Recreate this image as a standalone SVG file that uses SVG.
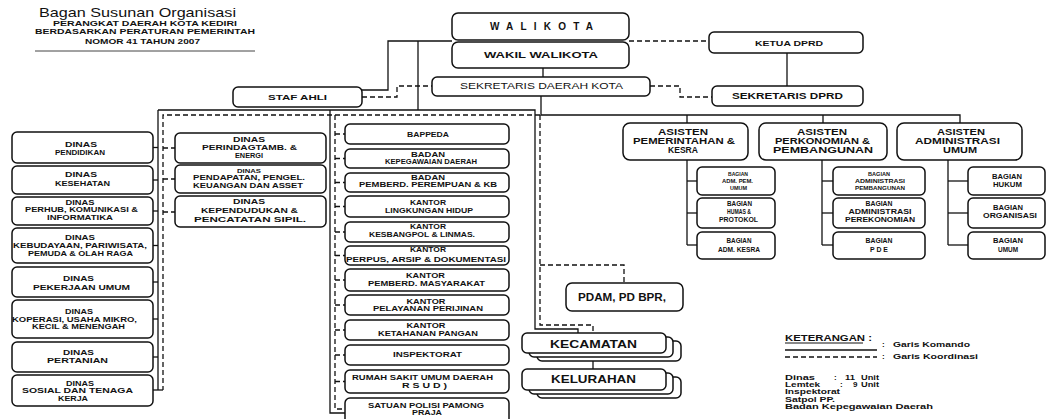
<svg xmlns="http://www.w3.org/2000/svg" width="1047" height="419" viewBox="0 0 1047 419">
<style>
.box{fill:#fff;stroke:#111;stroke-width:1.5}
.s{fill:none;stroke:#111;stroke-width:1.3}
.d{fill:none;stroke:#111;stroke-width:1.3;stroke-dasharray:5 3}
text{font-family:"Liberation Sans",Arial,sans-serif;fill:#111;font-weight:bold}
.c{text-anchor:middle}
.n{font-weight:normal}
.f7{font-size:7px}
.f75{font-size:7.5px}
.f65{font-size:6.5px}
.f55{font-size:5.5px}
.f8{font-size:8px}
.f95{font-size:9.5px}
.fa{font-size:8.6px}
.f11{font-size:11px}
</style>
<rect width="1047" height="419" fill="#fff"/>

<g id="header">
<text class="n" x="39" y="16.5" font-size="13" textLength="197" lengthAdjust="spacingAndGlyphs">Bagan Susunan Organisasi</text>
<text x="53" y="25.5" font-size="7.5" textLength="184" lengthAdjust="spacingAndGlyphs">PERANGKAT DAERAH KOTA KEDIRI</text>
<text x="35" y="34.3" font-size="7.5" textLength="220" lengthAdjust="spacingAndGlyphs">BERDASARKAN PERATURAN PEMERINTAH</text>
<text x="85" y="43.5" font-size="7.5" textLength="115" lengthAdjust="spacingAndGlyphs">NOMOR 41 TAHUN 2007</text>
<line x1="35" y1="51" x2="255" y2="51" stroke="#444" stroke-width="1"/>
</g>

<g id="connectors">
<polyline class="s" points="452,41 388,41 388,90 362,90"/>
<line class="s" x1="418" y1="41" x2="418" y2="110"/>
<polyline class="s" points="158,110 535,110 535,329 578,329 578,333"/>
<line class="s" x1="158" y1="110" x2="158" y2="390"/>
<polyline class="s" points="330,110 330,413 345,413"/>
<line class="s" x1="153" y1="147.5" x2="158" y2="147.5"/>
<line class="s" x1="153" y1="180" x2="158" y2="180"/>
<line class="s" x1="153" y1="211" x2="158" y2="211"/>
<line class="s" x1="153" y1="245.5" x2="158" y2="245.5"/>
<line class="s" x1="153" y1="282" x2="158" y2="282"/>
<line class="s" x1="153" y1="319" x2="158" y2="319"/>
<line class="s" x1="153" y1="357" x2="158" y2="357"/>
<line class="s" x1="153" y1="390" x2="163" y2="390"/>
<line class="s" x1="543" y1="68" x2="543" y2="77"/>
<polyline class="s" points="541,96 541,115 960,115 960,123"/>
<line class="s" x1="687" y1="115" x2="687" y2="123"/>
<line class="s" x1="823" y1="115" x2="823" y2="123"/>
<line class="s" x1="687" y1="160" x2="687" y2="245"/>
<line class="s" x1="687" y1="181" x2="697" y2="181"/>
<line class="s" x1="687" y1="213" x2="697" y2="213"/>
<line class="s" x1="687" y1="245" x2="697" y2="245"/>
<line class="s" x1="822" y1="160" x2="822" y2="245"/>
<line class="s" x1="822" y1="181" x2="833" y2="181"/>
<line class="s" x1="822" y1="213" x2="833" y2="213"/>
<line class="s" x1="822" y1="245" x2="833" y2="245"/>
<line class="s" x1="948" y1="160" x2="948" y2="245"/>
<line class="s" x1="948" y1="181" x2="968" y2="181"/>
<line class="s" x1="948" y1="213" x2="968" y2="213"/>
<line class="s" x1="948" y1="245" x2="968" y2="245"/>
<line class="s" x1="787" y1="53" x2="787" y2="86"/>
<line class="s" x1="593" y1="353" x2="593" y2="369"/>
<line class="d" x1="629" y1="41" x2="709" y2="41"/>
<polyline class="d" points="362,97 397,97 397,86 432,86"/>
<polyline class="d" points="650,86 680,86 680,97 712,97"/>
<polyline class="d" points="540,115 163,115 163,390"/>
<polyline class="d" points="335,115 335,409 345,409"/>
<polyline class="d" points="540,115 540,325 593,325 593,333"/>
<polyline class="d" points="540,265 624,265 624,283"/>
<line class="d" x1="163" y1="148" x2="175" y2="148"/>
<line class="d" x1="163" y1="179" x2="175" y2="179"/>
<line class="d" x1="163" y1="212" x2="175" y2="212"/>
<line class="d" x1="335" y1="134" x2="345" y2="134"/>
<line class="d" x1="335" y1="158.5" x2="345" y2="158.5"/>
<line class="d" x1="335" y1="182.5" x2="345" y2="182.5"/>
<line class="d" x1="335" y1="206.5" x2="345" y2="206.5"/>
<line class="d" x1="335" y1="232" x2="345" y2="232"/>
<line class="d" x1="335" y1="255.5" x2="345" y2="255.5"/>
<line class="d" x1="335" y1="280" x2="345" y2="280"/>
<line class="d" x1="335" y1="305" x2="345" y2="305"/>
<line class="d" x1="335" y1="330" x2="345" y2="330"/>
<line class="d" x1="335" y1="355" x2="345" y2="355"/>
<line class="d" x1="335" y1="381.5" x2="345" y2="381.5"/>
</g>

<g id="walikota"><rect class="box" x="452" y="13" width="177" height="27" rx="6"/>
<text class="c" x="541.5" y="30" font-size="10" textLength="103" lengthAdjust="spacing">WALIKOTA</text></g>
<g id="wakil-walikota"><rect class="box" x="452" y="42" width="177" height="26" rx="6"/>
<text class="c f95" x="541" y="58" textLength="114" lengthAdjust="spacingAndGlyphs">WAKIL WALIKOTA</text></g>
<g id="sekda"><rect class="box" x="432" y="77" width="218" height="19" rx="5"/>
<text class="c n" x="541.5" y="89" font-size="8.5" textLength="163" lengthAdjust="spacingAndGlyphs">SEKRETARIS DAERAH KOTA</text></g>
<g id="ketua-dprd"><rect class="box" x="709" y="32" width="154" height="21" rx="5"/>
<text class="c f8" x="789" y="45.5" textLength="68" lengthAdjust="spacingAndGlyphs">KETUA DPRD</text></g>
<g id="sekretaris-dprd"><rect class="box" x="712" y="86" width="151" height="20" rx="5"/>
<text class="c" x="787.5" y="99" font-size="8.5" textLength="111" lengthAdjust="spacingAndGlyphs">SEKRETARIS DPRD</text></g>
<g id="staf-ahli"><rect class="box" x="233" y="87" width="129" height="20" rx="5"/>
<text class="c f8" x="297.5" y="100" textLength="59" lengthAdjust="spacingAndGlyphs">STAF AHLI</text></g>

<g id="dinas-pendidikan"><rect class="box" x="12" y="132" width="141" height="31" rx="5"/>
<text class="c f75" x="81" y="146.5" textLength="32" lengthAdjust="spacingAndGlyphs">DINAS</text>
<text class="c f75" x="80" y="155" textLength="50" lengthAdjust="spacingAndGlyphs">PENDIDIKAN</text></g>
<g id="dinas-kesehatan"><rect class="box" x="12" y="166" width="141" height="28" rx="5"/>
<text class="c f75" x="81" y="177" textLength="32" lengthAdjust="spacingAndGlyphs">DINAS</text>
<text class="c f75" x="82.5" y="186" textLength="55" lengthAdjust="spacingAndGlyphs">KESEHATAN</text></g>
<g id="dinas-perhub"><rect class="box" x="12" y="197" width="141" height="28" rx="5"/>
<text class="c f65" x="80" y="205" textLength="29" lengthAdjust="spacingAndGlyphs">DINAS</text>
<text class="c f65" x="81.5" y="212.3" textLength="113" lengthAdjust="spacingAndGlyphs">PERHUB, KOMUNIKASI &amp;</text>
<text class="c f65" x="80" y="220" textLength="66" lengthAdjust="spacingAndGlyphs">INFORMATIKA</text></g>
<g id="dinas-kebudayaan"><rect class="box" x="12" y="228" width="141" height="35" rx="5"/>
<text class="c f7" x="80" y="240" textLength="30" lengthAdjust="spacingAndGlyphs">DINAS</text>
<text class="c f7" x="80" y="248.3" textLength="134" lengthAdjust="spacingAndGlyphs">KEBUDAYAAN, PARIWISATA,</text>
<text class="c f7" x="80.5" y="256" textLength="105" lengthAdjust="spacingAndGlyphs">PEMUDA &amp; OLAH RAGA</text></g>
<g id="dinas-pu"><rect class="box" x="12" y="267" width="141" height="30" rx="5"/>
<text class="c f75" x="78.5" y="280.7" textLength="31" lengthAdjust="spacingAndGlyphs">DINAS</text>
<text class="c f75" x="81.5" y="289.5" textLength="97" lengthAdjust="spacingAndGlyphs">PEKERJAAN UMUM</text></g>
<g id="dinas-koperasi"><rect class="box" x="12" y="300" width="141" height="38" rx="5"/>
<text class="c f65" x="79" y="314.3" textLength="28" lengthAdjust="spacingAndGlyphs">DINAS</text>
<text class="c f65" x="74.5" y="321.7" textLength="125" lengthAdjust="spacingAndGlyphs">KOPERASI, USAHA MIKRO,</text>
<text class="c f65" x="78.5" y="328.5" textLength="93" lengthAdjust="spacingAndGlyphs">KECIL &amp; MENENGAH</text></g>
<g id="dinas-pertanian"><rect class="box" x="12" y="342" width="141" height="30" rx="5"/>
<text class="c f75" x="78.5" y="354.5" textLength="31" lengthAdjust="spacingAndGlyphs">DINAS</text>
<text class="c f75" x="77.5" y="362.5" textLength="61" lengthAdjust="spacingAndGlyphs">PERTANIAN</text></g>
<g id="dinas-sosial"><rect class="box" x="12" y="375" width="141" height="31" rx="5"/>
<text class="c f7" x="80" y="385.7" textLength="28" lengthAdjust="spacingAndGlyphs">DINAS</text>
<text class="c f7" x="77.5" y="393" textLength="111" lengthAdjust="spacingAndGlyphs">SOSIAL DAN TENAGA</text>
<text class="c f7" x="73" y="400.5" textLength="30" lengthAdjust="spacingAndGlyphs">KERJA</text></g>

<g id="dinas-perindag"><rect class="box" x="175" y="133" width="151" height="30" rx="5"/>
<text class="c f7" x="249" y="141.7" textLength="32" lengthAdjust="spacingAndGlyphs">DINAS</text>
<text class="c f7" x="249.5" y="149.5" textLength="95" lengthAdjust="spacingAndGlyphs">PERINDAGTAMB. &amp;</text>
<text class="c f7" x="249" y="157.5" textLength="28" lengthAdjust="spacingAndGlyphs">ENERGI</text></g>
<g id="dinas-pendapatan"><rect class="box" x="175" y="165" width="151" height="28" rx="5"/>
<text class="c" x="249" y="172.7" font-size="5" textLength="24" lengthAdjust="spacingAndGlyphs">DINAS</text>
<text class="c f65" x="249" y="180" textLength="112" lengthAdjust="spacingAndGlyphs">PENDAPATAN, PENGEL.</text>
<text class="c f65" x="248" y="187.7" textLength="110" lengthAdjust="spacingAndGlyphs">KEUANGAN DAN ASSET</text></g>
<g id="dinas-kependudukan"><rect class="box" x="175" y="196" width="151" height="31" rx="5"/>
<text class="c f7" x="249" y="204.3" textLength="32" lengthAdjust="spacingAndGlyphs">DINAS</text>
<text class="c f7" x="249.5" y="213.3" textLength="97" lengthAdjust="spacingAndGlyphs">KEPENDUDUKAN &amp;</text>
<text class="c f7" x="250" y="221.7" textLength="112" lengthAdjust="spacingAndGlyphs">PENCATATAN SIPIL.</text></g>

<g id="bappeda"><rect class="box" x="345" y="124" width="164" height="20" rx="5"/>
<text class="c f65" x="428" y="136.7" textLength="42" lengthAdjust="spacingAndGlyphs">BAPPEDA</text></g>
<g id="badan-kepegawaian"><rect class="box" x="345" y="149" width="164" height="19" rx="5"/>
<text class="c f65" x="428" y="156.7" textLength="34" lengthAdjust="spacingAndGlyphs">BADAN</text>
<text class="c f65" x="431" y="164" textLength="92" lengthAdjust="spacingAndGlyphs">KEPEGAWAIAN DAERAH</text></g>
<g id="badan-pemberdayaan"><rect class="box" x="345" y="173" width="164" height="19" rx="5"/>
<text class="c f65" x="428" y="180" textLength="34" lengthAdjust="spacingAndGlyphs">BADAN</text>
<text class="c f65" x="428" y="186.7" textLength="138" lengthAdjust="spacingAndGlyphs">PEMBERD. PEREMPUAN &amp; KB</text></g>
<g id="kantor-lh"><rect class="box" x="345" y="196" width="164" height="21" rx="5"/>
<text class="c f7" x="428" y="205" textLength="36" lengthAdjust="spacingAndGlyphs">KANTOR</text>
<text class="c f7" x="429" y="212.7" textLength="88" lengthAdjust="spacingAndGlyphs">LINGKUNGAN HIDUP</text></g>
<g id="kantor-kesbangpol"><rect class="box" x="345" y="222" width="164" height="20" rx="5"/>
<text class="c f7" x="428" y="229.3" textLength="36" lengthAdjust="spacingAndGlyphs">KANTOR</text>
<text class="c f7" x="422" y="236.7" textLength="106" lengthAdjust="spacingAndGlyphs">KESBANGPOL &amp; LINMAS.</text></g>
<g id="kantor-perpus"><rect class="box" x="345" y="246" width="164" height="19" rx="5"/>
<text class="c f7" x="428" y="251.7" textLength="36" lengthAdjust="spacingAndGlyphs">KANTOR</text>
<text class="c f7" x="426" y="261.5" textLength="160" lengthAdjust="spacingAndGlyphs">PERPUS, ARSIP &amp; DOKUMENTASI</text></g>
<g id="kantor-pemberdayaan"><rect class="box" x="345" y="269" width="164" height="22" rx="5"/>
<text class="c f7" x="425.5" y="278.3" textLength="39" lengthAdjust="spacingAndGlyphs">KANTOR</text>
<text class="c f7" x="426.5" y="286" textLength="117" lengthAdjust="spacingAndGlyphs">PEMBERD. MASYARAKAT</text></g>
<g id="kantor-perijinan"><rect class="box" x="345" y="295" width="164" height="20" rx="5"/>
<text class="c f7" x="426" y="304" textLength="39" lengthAdjust="spacingAndGlyphs">KANTOR</text>
<text class="c f7" x="428" y="310.7" textLength="110" lengthAdjust="spacingAndGlyphs">PELAYANAN PERIJINAN</text></g>
<g id="kantor-ketahanan"><rect class="box" x="345" y="320" width="164" height="20" rx="5"/>
<text class="c f7" x="426" y="328.3" textLength="39" lengthAdjust="spacingAndGlyphs">KANTOR</text>
<text class="c f7" x="428" y="336" textLength="100" lengthAdjust="spacingAndGlyphs">KETAHANAN PANGAN</text></g>
<g id="inspektorat"><rect class="box" x="345" y="345" width="164" height="20" rx="5"/>
<text class="c f7" x="427.5" y="357.3" textLength="69" lengthAdjust="spacingAndGlyphs">INSPEKTORAT</text></g>
<g id="rsud"><rect class="box" x="345" y="370" width="164" height="23" rx="5"/>
<text class="c f7" x="422.5" y="380" textLength="141" lengthAdjust="spacingAndGlyphs">RUMAH SAKIT UMUM DAERAH</text>
<text class="c f7" x="424.5" y="387.5" textLength="45" lengthAdjust="spacingAndGlyphs">R S U D )</text></g>
<g id="satpol-pp"><rect class="box" x="345" y="398" width="164" height="27" rx="5"/>
<text class="c f7" x="426" y="407.7" textLength="116" lengthAdjust="spacingAndGlyphs">SATUAN POLISI PAMONG</text>
<text class="c f7" x="427" y="415.2" textLength="30" lengthAdjust="spacingAndGlyphs">PRAJA</text></g>

<g id="pdam"><rect class="box" x="566" y="283" width="117" height="28" rx="6"/>
<text class="c" x="622" y="300.5" font-size="10.5" textLength="88" lengthAdjust="spacingAndGlyphs">PDAM, PD BPR,</text></g>
<g id="kecamatan">
<rect class="box" x="537" y="341" width="144" height="20" rx="5"/>
<rect class="box" x="529" y="337" width="144" height="20" rx="5"/>
<rect class="box" x="522" y="333" width="144" height="20" rx="5"/>
<text class="c f11" x="593.5" y="347.7" textLength="87" lengthAdjust="spacingAndGlyphs">KECAMATAN</text></g>
<g id="kelurahan">
<rect class="box" x="537" y="377" width="144" height="21" rx="5"/>
<rect class="box" x="529" y="373" width="144" height="21" rx="5"/>
<rect class="box" x="522" y="369" width="144" height="21" rx="5"/>
<text class="c f11" x="593.5" y="382.7" textLength="85" lengthAdjust="spacingAndGlyphs">KELURAHAN</text></g>

<g id="asisten-pemerintahan"><rect class="box" x="623" y="123" width="125" height="37" rx="7"/>
<text class="c fa" x="683" y="134.6" textLength="50" lengthAdjust="spacingAndGlyphs">ASISTEN</text>
<text class="c fa" x="684" y="143.6" textLength="102" lengthAdjust="spacingAndGlyphs">PEMERINTAHAN &amp;</text>
<text class="c fa" x="683" y="152.6" textLength="30" lengthAdjust="spacingAndGlyphs">KESRA</text></g>
<g id="asisten-perekonomian"><rect class="box" x="759" y="123" width="128" height="37" rx="7"/>
<text class="c fa" x="822" y="134.6" textLength="50" lengthAdjust="spacingAndGlyphs">ASISTEN</text>
<text class="c fa" x="822.5" y="143.6" textLength="95" lengthAdjust="spacingAndGlyphs">PERKONOMIAN &amp;</text>
<text class="c fa" x="823" y="152.6" textLength="100" lengthAdjust="spacingAndGlyphs">PEMBANGUNAN</text></g>
<g id="asisten-administrasi"><rect class="box" x="897" y="123" width="125" height="37" rx="7"/>
<text class="c fa" x="961" y="134.6" textLength="48" lengthAdjust="spacingAndGlyphs">ASISTEN</text>
<text class="c fa" x="957.5" y="143.6" textLength="85" lengthAdjust="spacingAndGlyphs">ADMINISTRASI</text>
<text class="c fa" x="960" y="152.6" textLength="34" lengthAdjust="spacingAndGlyphs">UMUM</text></g>

<g id="bagian-adm-pem"><rect class="box" x="697" y="167" width="78" height="28" rx="5"/>
<text class="c f55" x="738" y="175.7" textLength="20" lengthAdjust="spacingAndGlyphs">BAGIAN</text>
<text class="c f55" x="737.5" y="182.7" textLength="31" lengthAdjust="spacingAndGlyphs">ADM. PEM.</text>
<text class="c f55" x="738.5" y="190" textLength="17" lengthAdjust="spacingAndGlyphs">UMUM</text></g>
<g id="bagian-humas"><rect class="box" x="697" y="198" width="78" height="30" rx="5"/>
<text class="c f65" x="739.5" y="205.7" textLength="25" lengthAdjust="spacingAndGlyphs">BAGIAN</text>
<text class="c f65" x="739" y="214" textLength="24" lengthAdjust="spacingAndGlyphs">HUMAS &amp;</text>
<text class="c f65" x="738.5" y="222.3" textLength="39" lengthAdjust="spacingAndGlyphs">PROTOKOL</text></g>
<g id="bagian-adm-kesra"><rect class="box" x="697" y="232" width="78" height="27" rx="5"/>
<text class="c f65" x="739" y="242.7" textLength="25" lengthAdjust="spacingAndGlyphs">BAGIAN</text>
<text class="c f65" x="739" y="251.7" textLength="42" lengthAdjust="spacingAndGlyphs">ADM. KESRA</text></g>
<g id="bagian-adm-pembangunan"><rect class="box" x="833" y="167" width="92" height="28" rx="5"/>
<text class="c f55" x="879" y="175.7" textLength="22" lengthAdjust="spacingAndGlyphs">BAGIAN</text>
<text class="c f55" x="880" y="182.7" textLength="50" lengthAdjust="spacingAndGlyphs">ADMINISTRASI</text>
<text class="c f55" x="880" y="190" textLength="50" lengthAdjust="spacingAndGlyphs">PEMBANGUNAN</text></g>
<g id="bagian-adm-perekonomian"><rect class="box" x="833" y="198" width="92" height="30" rx="5"/>
<text class="c f65" x="879" y="205.7" textLength="27" lengthAdjust="spacingAndGlyphs">BAGIAN</text>
<text class="c f65" x="880" y="214" textLength="63" lengthAdjust="spacingAndGlyphs">ADMINISTRASI</text>
<text class="c f65" x="880" y="222.3" textLength="70" lengthAdjust="spacingAndGlyphs">PEREKONOMIAN</text></g>
<g id="bagian-pde"><rect class="box" x="833" y="232" width="92" height="27" rx="5"/>
<text class="c f65" x="879" y="242.7" textLength="27" lengthAdjust="spacingAndGlyphs">BAGIAN</text>
<text class="c f65" x="879" y="251.7" textLength="18" lengthAdjust="spacingAndGlyphs">P D E</text></g>
<g id="bagian-hukum"><rect class="box" x="968" y="167" width="77" height="28" rx="5"/>
<text class="c f7" x="1007" y="179" textLength="30" lengthAdjust="spacingAndGlyphs">BAGIAN</text>
<text class="c f7" x="1007.5" y="187.3" textLength="29" lengthAdjust="spacingAndGlyphs">HUKUM</text></g>
<g id="bagian-organisasi"><rect class="box" x="968" y="198" width="77" height="30" rx="5"/>
<text class="c f7" x="1008" y="210" textLength="30" lengthAdjust="spacingAndGlyphs">BAGIAN</text>
<text class="c f7" x="1010" y="218.3" textLength="54" lengthAdjust="spacingAndGlyphs">ORGANISASI</text></g>
<g id="bagian-umum"><rect class="box" x="968" y="232" width="77" height="27" rx="5"/>
<text class="c f7" x="1008" y="242.7" textLength="30" lengthAdjust="spacingAndGlyphs">BAGIAN</text>
<text class="c f7" x="1008" y="251.7" textLength="20" lengthAdjust="spacingAndGlyphs">UMUM</text></g>

<g id="keterangan">
<text x="785" y="341" font-size="8.5" textLength="87" lengthAdjust="spacingAndGlyphs">KETERANGAN :</text>
<line x1="785" y1="343" x2="863" y2="343" stroke="#111" stroke-width="1"/>
<line class="s" x1="785" y1="350" x2="877" y2="350"/>
<line class="d" x1="785" y1="357" x2="877" y2="357"/>
<text class="f8" x="882" y="346.7">:</text>
<text class="f8" x="893" y="346.7" textLength="77" lengthAdjust="spacingAndGlyphs">Garis Komando</text>
<text class="f8" x="882" y="359.3">:</text>
<text class="f8" x="893" y="359.3" textLength="85" lengthAdjust="spacingAndGlyphs">Garis Koordinasi</text>
<text class="f8" x="785" y="380" textLength="30" lengthAdjust="spacingAndGlyphs">Dinas</text>
<text class="f8" x="834" y="380">:</text>
<text class="f8" x="845" y="380" textLength="10" lengthAdjust="spacingAndGlyphs">11</text>
<text class="f8" x="861" y="380" textLength="18" lengthAdjust="spacingAndGlyphs">Unit</text>
<text class="f8" x="785" y="387.3" textLength="35" lengthAdjust="spacingAndGlyphs">Lemtek</text>
<text class="f8" x="840" y="387.3">:</text>
<text class="f8" x="853" y="387.3">9</text>
<text class="f8" x="861" y="387.3" textLength="18" lengthAdjust="spacingAndGlyphs">Unit</text>
<text class="f8" x="785" y="394.3" textLength="55" lengthAdjust="spacingAndGlyphs">Inspektorat</text>
<text class="f8" x="785" y="401.7" textLength="50" lengthAdjust="spacingAndGlyphs">Satpol PP.</text>
<text class="f8" x="785" y="409.3" textLength="148" lengthAdjust="spacingAndGlyphs">Badan Kepegawaian Daerah</text>
</g>
</svg>
